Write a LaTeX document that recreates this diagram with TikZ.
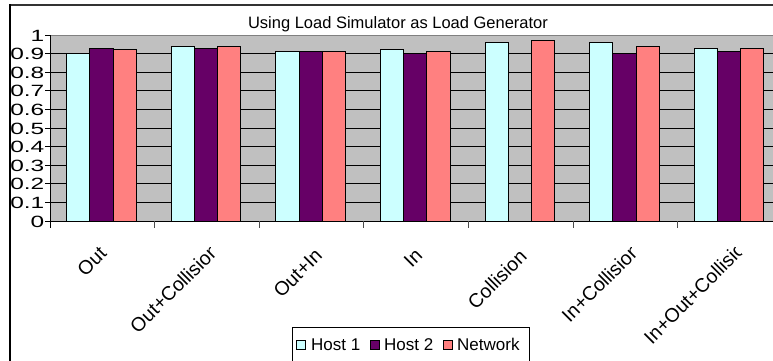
\documentclass[tikz,border=0pt]{standalone}
\usepackage{fontspec}
\setmainfont{Liberation Sans}
\definecolor{hostone}{HTML}{CCFFFF}
\definecolor{hosttwo}{HTML}{660066}
\definecolor{netw}{HTML}{FF8080}
\definecolor{plotgray}{HTML}{C0C0C0}
\begin{document}
\begin{tikzpicture}[x=1pt,y=-1pt,
  bar/.style={draw=black,line width=0.9pt},
  gridln/.style={draw=black,line width=0.9pt},
  ticklbl/.style={anchor=east,inner sep=0pt,font=\fontsize{16.3}{18}\selectfont},
  catlbl/.style={anchor=north east,inner sep=0pt,transform shape,font=\fontsize{19.5}{21}\selectfont},
  legtxt/.style={anchor=base west,inner sep=0pt,font=\fontsize{17}{19}\selectfont},
  swatch/.style={draw=black,line width=0.8pt}]
\useasboundingbox (0,0) rectangle (773,360);
\begin{scope}
\clip (0,0) rectangle (773,360);
% frame
\draw[line width=2pt,black!80] (10,5) -- (790,5);
\draw[line width=2pt] (9.5,4) -- (9.5,370);
% plot area
\fill[plotgray] (50,35) rectangle (790,221);
\foreach \v in {1,...,9} \draw[gridln] (45,{221-\v*18.6}) -- (790,{221-\v*18.6});
\draw[black!50,line width=1pt] (50,35) -- (790,35);
\draw[gridln] (45,35) -- (50,35);
\draw[gridln] (45,221) -- (50,221);
% bars
\foreach \k/\a/\b/\c in {0/0.90/0.93/0.92, 1/0.94/0.93/0.94, 2/0.91/0.91/0.91, 3/0.92/0.90/0.91, 4/0.96/0/0.97, 5/0.96/0.90/0.94, 6/0.93/0.91/0.93}{
  \pgfmathsetmacro\xl{50+\k*104.6+16.7}
  \filldraw[bar,fill=hostone] (\xl,221) rectangle ({\xl+23.2},{221-\a*186});
  \filldraw[bar,fill=hosttwo] ({\xl+23.2},221) rectangle ({\xl+46.4},{221-\b*186});
  \filldraw[bar,fill=netw] ({\xl+46.4},221) rectangle ({\xl+69.6},{221-\c*186});
}
% axes
\draw[line width=0.9pt] (50,35) -- (50,228);
\draw[line width=0.9pt] (50,221) -- (790,221);
\foreach \k in {1,...,7} \draw[line width=0.9pt,black!70] ({50+\k*104.6},221) -- ({50+\k*104.6},228);
% title
\node[font=\fontsize{16.5}{18}\selectfont,anchor=base,inner sep=0pt] (title) at (398,28.3) {Using Load Simulator as Load Generator};
% y labels
\foreach \v/\t in {0/0,1/0.1,2/0.2,3/0.3,4/0.4,5/0.5,6/0.6,7/0.7,8/0.8,9/0.9,10/1}
  \node[ticklbl] (y\v) at (44.5,{221-\v*18.6+0.5}) {\scalebox{1.5}[1]{\t}};
% category labels
\foreach \n/\t/\ex/\ey/\d in {1/Out/98/245/0, 2/Out+Collision/207/245/5, 3/Out+In/313/248/1, 4/In/414/247/0, 5/Collision/518/248/0, 6/In+Collision/628/245/5, 7/In+Out+Collision/732/245/17}{
  \begin{scope}[shift={(\ex,\ey)},rotate=45]
    \clip (-400,-80) rectangle (0.8,80);
    \node[catlbl] (c\n) at (\d,0) {\t};
  \end{scope}
}
% legend
\draw[line width=0.9pt] (292,327) rectangle (529,370);
\filldraw[swatch,fill=hostone] (296,340) rectangle (305,349.5);
\node[legtxt] (l1) at (311,350.5) {Host 1};
\filldraw[swatch,fill=hosttwo] (370,340) rectangle (379,349.5);
\node[legtxt] (l2) at (384,350.5) {Host 2};
\filldraw[swatch,fill=netw] (443,340) rectangle (452,349.5);
\node[legtxt] (l3) at (457,350.5) {Network};
\end{scope}
\end{tikzpicture}
\end{document}
